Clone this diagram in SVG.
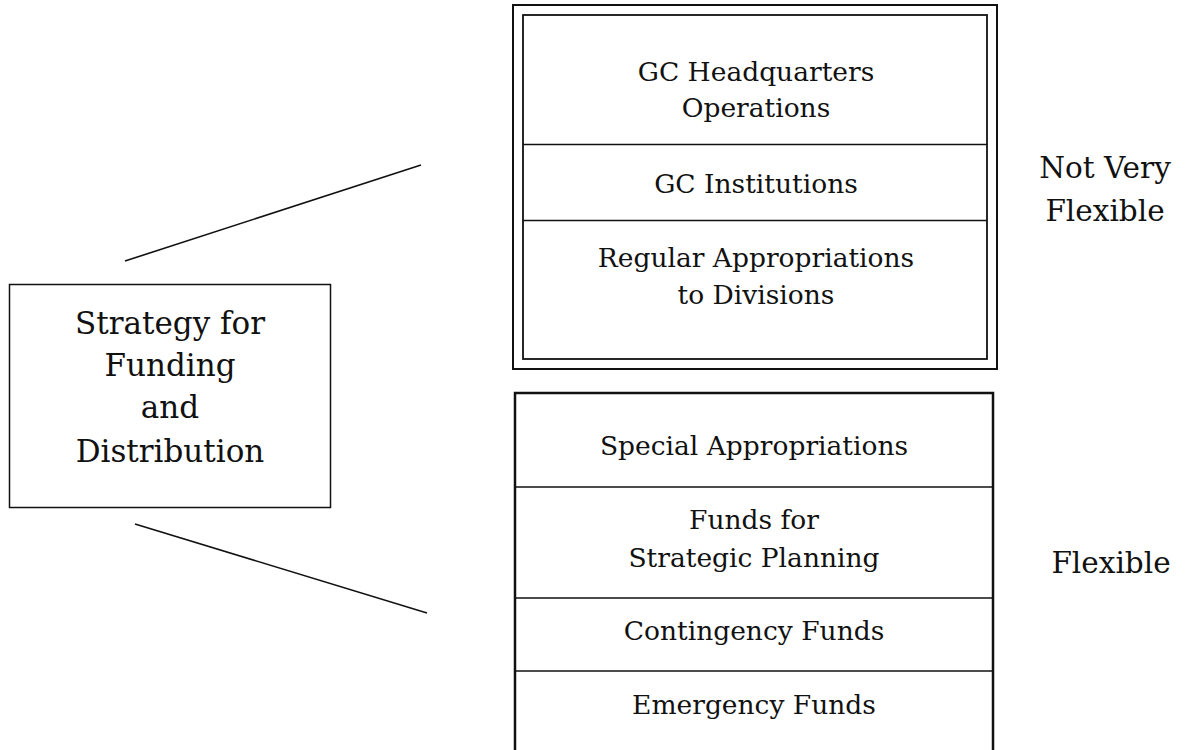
<svg xmlns="http://www.w3.org/2000/svg" width="1185" height="750" viewBox="0 0 1185 750">
<style>
  text { font-family: "DejaVu Serif", "Liberation Serif", serif; fill: #111; text-anchor: middle; }
  .box { font-size: 26.5px; }
  .lbl { font-size: 29.5px; }
  .main { font-size: 31px; }
  .frame { fill: none; stroke: #111; }
  .div { stroke: #111; stroke-width: 1.3; }
</style>
<rect width="1185" height="750" fill="#fff"/>
<g id="connectors" stroke="#111" stroke-width="1.6">
  <line x1="125" y1="261" x2="421" y2="165"/>
  <line x1="135" y1="524" x2="427" y2="613"/>
</g>
<g id="strategy">
  <rect class="frame" x="9.5" y="284.5" width="321" height="223" stroke-width="1.5"/>
  <text class="main" x="170" y="334">Strategy for</text>
  <text class="main" x="170" y="376">Funding</text>
  <text class="main" x="170" y="418">and</text>
  <text class="main" x="170" y="462">Distribution</text>
</g>
<g id="not-flexible-box">
  <rect class="frame" x="513" y="5" width="484" height="364" stroke-width="2"/>
  <rect class="frame" x="523" y="15" width="464" height="344" stroke-width="1.8"/>
  <line class="div" x1="523" y1="144.5" x2="987" y2="144.5"/>
  <line class="div" x1="523" y1="220.5" x2="987" y2="220.5"/>
  <text class="box" x="756" y="81">GC Headquarters</text>
  <text class="box" x="756" y="117">Operations</text>
  <text class="box" x="756" y="193">GC Institutions</text>
  <text class="box" x="756" y="267">Regular Appropriations</text>
  <text class="box" x="756" y="304">to Divisions</text>
</g>
<g id="flexible-box">
  <rect class="frame" x="515" y="393" width="478" height="380" stroke-width="2.5"/>
  <line class="div" x1="515" y1="487" x2="993" y2="487" stroke-width="1.8"/>
  <line class="div" x1="515" y1="598" x2="993" y2="598" stroke-width="1.8"/>
  <line class="div" x1="515" y1="671" x2="993" y2="671" stroke-width="1.8"/>
  <text class="box" x="754" y="455">Special Appropriations</text>
  <text class="box" x="754" y="529">Funds for</text>
  <text class="box" x="754" y="567">Strategic Planning</text>
  <text class="box" x="754" y="640">Contingency Funds</text>
  <text class="box" x="754" y="714">Emergency Funds</text>
</g>
<g id="label-not-very-flexible">
  <text class="lbl" x="1105" y="178">Not Very</text>
  <text class="lbl" x="1105" y="221">Flexible</text>
</g>
<g id="label-flexible">
  <text class="lbl" x="1111" y="573">Flexible</text>
</g>
</svg>
